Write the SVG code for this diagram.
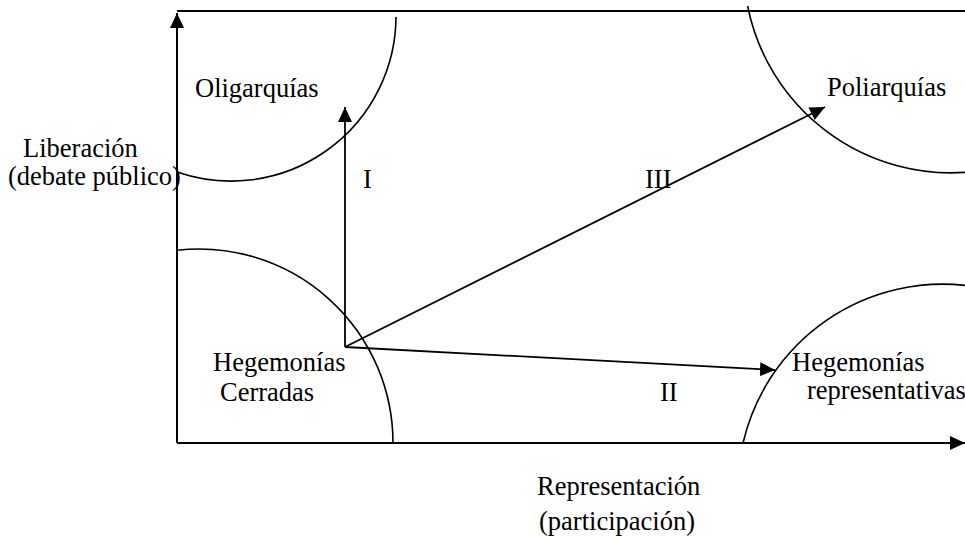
<svg xmlns="http://www.w3.org/2000/svg" width="965" height="537" viewBox="0 0 965 537">
<style>
.ax{stroke:#000;stroke-width:2;fill:none}
.arc{stroke:#000;stroke-width:1.6;fill:none}
.ar{stroke:#000;stroke-width:1.8;fill:none;marker-end:url(#ah)}
text{font-family:"Liberation Serif","Times New Roman",serif;font-size:26.5px;fill:#000}
</style>
<defs>
<marker id="ah" markerUnits="userSpaceOnUse" markerWidth="15" markerHeight="14" refX="15" refY="7" orient="auto" viewBox="0 0 15 14">
<path d="M0,0 L15,7 L0,14 z" fill="#000"/>
</marker>
</defs>
<rect width="965" height="537" fill="#fff"/>
<g id="axes">
<line class="ax" x1="177" y1="11" x2="965" y2="11"/>
<line class="ax" x1="177" y1="443" x2="177" y2="13" style="marker-end:url(#ah)"/>
<line class="ax" x1="177" y1="443" x2="965" y2="443" style="marker-end:url(#ah)"/>
</g>
<g id="oligarquias">
<path class="arc" d="M177,172 A165,165 0 0 0 396,17"/>
<text x="195" y="97">Oligarquías</text>
</g>
<g id="poliarquias">
<path class="arc" d="M747.6,6 A207.5,207.5 0 0 0 970,172"/>
<text x="827" y="96">Poliarquías</text>
</g>
<g id="hegemonias-cerradas">
<path class="arc" d="M177,250.3 A194,194 0 0 1 393,443"/>
<text x="213" y="371">Hegemonías</text>
<text x="220" y="401">Cerradas</text>
</g>
<g id="hegemonias-representativas">
<path class="arc" d="M743,443 A205,205 0 0 1 970,286"/>
<text x="792" y="371">Hegemonías</text>
<text x="807" y="399">representativas</text>
</g>
<g id="axis-labels">
<text x="23" y="157">Liberación</text>
<text x="8" y="185">(debate público)</text>
<text x="537" y="495">Representación</text>
<text x="539" y="530">(participación)</text>
</g>
<g id="connectors">
<polyline class="ar" points="345,347 345,107"/>
<line class="ar" x1="345" y1="347" x2="775" y2="370"/>
<line class="ar" x1="345" y1="347" x2="825" y2="107"/>
<text x="363" y="188">I</text>
<text x="645" y="188">III</text>
<text x="660" y="401">II</text>
</g>
</svg>
